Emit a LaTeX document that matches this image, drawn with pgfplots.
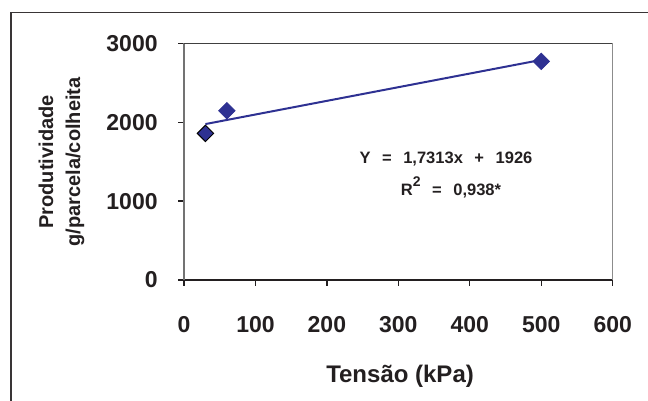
\documentclass[border=0pt]{standalone}
\usepackage{pgfplots}
\pgfplotsset{compat=1.18}
\usepackage{fontspec}
\setmainfont{Liberation Sans}
\definecolor{markblue}{RGB}{46,49,146}
\definecolor{ink}{RGB}{35,31,32}
\begin{document}
\begin{tikzpicture}
% picture is 648x401 px, 1px = 0.5pt
\useasboundingbox (0,0) rectangle (324pt,200.5pt);
\draw[ink!90, line width=0.8pt] (5.5pt,0) -- (5.5pt,194.15pt) -- (324pt,194.15pt);
\begin{axis}[
    at={(92pt,60.5pt)}, anchor=south west,
    scale only axis,
    width=214.35pt, height=118.25pt,
    xmin=0, xmax=600, ymin=0, ymax=3000,
    xtick={0,100,...,600},
    ytick={0,1000,2000,3000},
    axis lines=left,
    axis line style={-},
    x axis line style={ink, line width=0.9pt},
    y axis line style={black!55, line width=0.9pt},
    tick align=outside,
    major tick length=3pt,
    tick style={ink, line width=0.7pt},
    xtick pos=bottom, ytick pos=left,
    /pgf/number format/assume math mode=true,
    /pgf/number format/1000 sep={},
    scaled ticks=false,
    ticklabel style={font=\fontsize{11.5}{13}\selectfont\bfseries, text=ink},
    yticklabel style={anchor=east, inner sep=0pt, xshift=-10pt},
    xticklabel style={anchor=north, inner sep=0pt, yshift=-15pt},
    xlabel={Tensão (kPa)},
    xlabel style={at={(axis description cs:0.504,-0.406)}, anchor=center,
        font=\fontsize{12}{14}\selectfont\bfseries, text=ink},
    ylabel={Produtividade\\g/parcela/colheita},
    ylabel style={at={(axis description cs:-0.286,0.499)}, anchor=center,
        align=center, font=\fontsize{10}{13.5}\selectfont\bfseries, text=ink},
    clip=false,
]
\draw[black!75, line width=0.8pt] (rel axis cs:0,1) -- (rel axis cs:1,1);
\draw[black!45, line width=0.8pt] (rel axis cs:1,1) -- (rel axis cs:1,0);

\addplot[markblue, line width=1pt] coordinates {(30,1978)(500,2792)};

\addplot[only marks, mark=square*, mark size=5.8pt*0.5,
    mark options={rotate=45, fill=markblue, draw=markblue}]
    coordinates {(60,2147)(500,2774)};
\addplot[only marks, mark=square*, mark size=5.8pt*0.5,
    mark options={rotate=45, fill=markblue, draw=black, line width=0.5pt}]
    coordinates {(30,1860)};

\node[anchor=base, font=\fontsize{8.25}{10}\selectfont\bfseries, text=ink]
    at (axis cs:366.7,1478) {Y\hspace{0.7em}=\hspace{0.7em}1,7313x\hspace{0.7em}+\hspace{0.7em}1926};
\node[anchor=base, font=\fontsize{8.25}{10}\selectfont\bfseries, text=ink]
    at (axis cs:373.7,1066) {R\raisebox{4.5pt}{\fontsize{7}{8}\selectfont 2}\hspace{0.7em}=\hspace{0.7em}0,938*};
\end{axis}
\end{tikzpicture}
\end{document}
